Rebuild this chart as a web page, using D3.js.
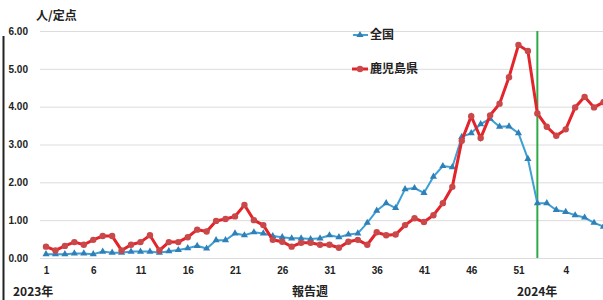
<!DOCTYPE html>
<html>
<head>
<meta charset="utf-8">
<script src="https://cdn.jsdelivr.net/npm/d3@7"></script>
<style>
  body { margin: 0; background: #fff; }
  svg { display: block; font-family: "Noto Sans CJK JP", "Noto Sans", sans-serif; }
</style>
</head>
<body>
<script>
// report weeks: 2023 wk1-52, then 2024 wk1-8
var weeks = [];
for (var w = 1; w <= 52; w++) weeks.push(w);
for (var w2 = 1; w2 <= 8; w2++) weeks.push(w2);

// 全国 (per sentinel)
var national = [0.10, 0.10, 0.10, 0.12, 0.12, 0.10, 0.17, 0.14, 0.14, 0.17,
                0.17, 0.17, 0.14, 0.18, 0.21, 0.26, 0.32, 0.25, 0.47, 0.47,
                0.65, 0.60, 0.68, 0.65, 0.58, 0.55, 0.52, 0.52, 0.50, 0.52,
                0.60, 0.55, 0.62, 0.65, 0.93, 1.25, 1.45, 1.32, 1.82, 1.85,
                1.72, 2.15, 2.43, 2.40, 3.20, 3.30, 3.54, 3.68, 3.47, 3.48,
                3.30, 2.62, 1.45, 1.45, 1.27, 1.22, 1.13, 1.07, 0.93, 0.83];

// 鹿児島県 (per sentinel)
var kagoshima = [0.30, 0.20, 0.32, 0.42, 0.35, 0.48, 0.58, 0.58, 0.20, 0.35,
                 0.42, 0.60, 0.20, 0.42, 0.42, 0.55, 0.75, 0.70, 0.98, 1.03,
                 1.10, 1.40, 1.00, 0.87, 0.48, 0.43, 0.30, 0.40, 0.40, 0.35,
                 0.35, 0.27, 0.43, 0.48, 0.35, 0.68, 0.60, 0.62, 0.87, 1.05,
                 0.95, 1.13, 1.45, 1.88, 3.10, 3.75, 3.17, 3.77, 4.08, 4.78,
                 5.63, 5.47, 3.82, 3.47, 3.23, 3.40, 3.98, 4.26, 3.98, 4.12];

var yTicks = [0, 1, 2, 3, 4, 5, 6];
var markerIdx = 52; // 2024 week 1

var W = 603, H = 300;
var svg = d3.select("body").append("svg")
    .attr("width", W)
    .attr("height", H);

var x = d3.scaleLinear().domain([0, 59]).range([46, 603.5]);
var y = d3.scaleLinear().domain([0, 6]).range([258, 31]);

// left frame edge
svg.append("line")
    .attr("x1", 3.5).attr("x2", 3.5)
    .attr("y1", 36).attr("y2", H)
    .attr("stroke", "#222").attr("stroke-width", 2);

// y axis + gridlines
var yAxis = svg.append("g")
    .attr("transform", "translate(40,0)")
    .call(d3.axisLeft(y)
      .tickValues(yTicks)
      .tickSize(-(W - 40))
      .tickPadding(12)
      .tickFormat(d3.format(".2f")));
yAxis.select(".domain").remove();
yAxis.selectAll("line").attr("stroke", "#dcdcdc").attr("stroke-width", 1);
yAxis.selectAll("text")
    .attr("fill", "#222")
    .style("font-size", "10px")
    .style("font-weight", "bold");

// x axis
var xAxis = svg.append("g")
    .attr("transform", "translate(0,258)")
    .call(d3.axisBottom(x)
      .tickValues(d3.range(0, weeks.length, 5))
      .tickSize(0)
      .tickPadding(9)
      .tickFormat(function(i) { return weeks[i]; }));
xAxis.select(".domain").remove();
xAxis.selectAll("text")
    .attr("fill", "#222")
    .style("font-size", "10px")
    .style("font-weight", "bold");

// green marker line at start of 2024
svg.append("line")
    .attr("x1", x(markerIdx)).attr("x2", x(markerIdx))
    .attr("y1", y(6)).attr("y2", y(0))
    .attr("stroke", "#2eaa47").attr("stroke-width", 2);

var line = d3.line()
    .x(function(d, i) { return x(i); })
    .y(function(d) { return y(d); });

// national (blue, triangles)
svg.append("path")
    .datum(national)
    .attr("d", line)
    .attr("fill", "none")
    .attr("stroke", "#3d9fd4")
    .attr("stroke-width", 2);
var tri = d3.symbol().type(d3.symbolTriangle).size(22);
svg.selectAll(".tri")
    .data(national)
    .enter().append("path")
    .attr("class", "tri")
    .attr("d", tri)
    .attr("transform", function(d, i) { return "translate(" + x(i) + "," + y(d) + ")"; })
    .attr("fill", "#2f7fb8");

// kagoshima (red, circles)
svg.append("path")
    .datum(kagoshima)
    .attr("d", line)
    .attr("fill", "none")
    .attr("stroke", "#e3242b")
    .attr("stroke-width", 3);
svg.selectAll(".dot")
    .data(kagoshima)
    .enter().append("circle")
    .attr("class", "dot")
    .attr("cx", function(d, i) { return x(i); })
    .attr("cy", function(d) { return y(d); })
    .attr("r", 3.2)
    .attr("fill", "#c9484a");

// legend
var legend = svg.append("g");
legend.append("line")
    .attr("x1", 353).attr("x2", 368).attr("y1", 35).attr("y2", 35)
    .attr("stroke", "#3d9fd4").attr("stroke-width", 2);
legend.append("path")
    .attr("d", tri)
    .attr("transform", "translate(360,35)")
    .attr("fill", "#2f7fb8");
legend.append("text")
    .attr("x", 370).attr("y", 39)
    .text("全国");
legend.append("line")
    .attr("x1", 352).attr("x2", 368).attr("y1", 69).attr("y2", 69)
    .attr("stroke", "#e3242b").attr("stroke-width", 3);
legend.append("circle")
    .attr("cx", 360).attr("cy", 69).attr("r", 3.2)
    .attr("fill", "#c9484a");
legend.append("text")
    .attr("x", 370).attr("y", 73)
    .text("鹿児島県");
legend.selectAll("text")
    .attr("fill", "#222")
    .style("font-size", "12px")
    .style("font-weight", "bold");

// titles
function label(tx, ty, s, anchor) {
  svg.append("text")
      .attr("x", tx).attr("y", ty)
      .attr("text-anchor", anchor || "start")
      .attr("fill", "#222")
      .style("font-size", "12px")
      .style("font-weight", "bold")
      .text(s);
}
label(36, 20, "人/定点");
label(13, 296, "2023年");
label(310, 296, "報告週", "middle");
label(517, 296, "2024年");
</script>
</body>
</html>
